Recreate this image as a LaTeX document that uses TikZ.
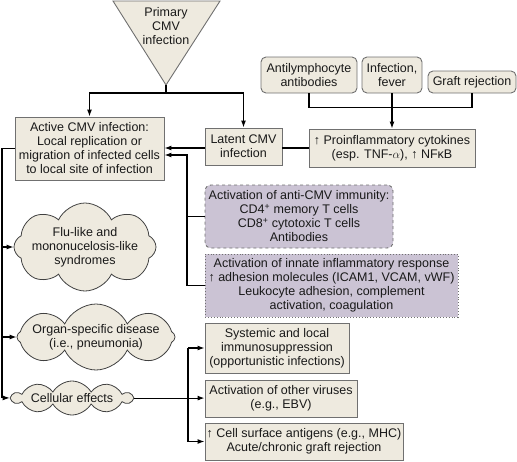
\documentclass[tikz,border=0pt]{standalone}
\usepackage{fontspec}
\setmainfont{Liberation Sans}
\usepackage{tikz}
\usetikzlibrary{shapes.symbols,arrows.meta,positioning,calc}

\definecolor{boxfill}{RGB}{238,234,223}
\definecolor{purpfill}{RGB}{203,195,212}
\definecolor{edge}{RGB}{112,112,112}

\begin{document}
\begin{tikzpicture}[x=1pt, y=-1pt,
    every node/.style={font=\fontsize{12.5}{14}\selectfont, text=black!90, align=center, inner sep=1.5pt},
    box/.style={rectangle, draw=edge, fill=boxfill, line width=0.9pt},
    cbox/.style={box, rounded corners=5pt},
    dashbox/.style={rectangle, draw=edge, fill=purpfill, dashed, rounded corners=6pt, line width=0.9pt},
    dotbox/.style={rectangle, draw=edge, fill=purpfill, dotted, line width=0.9pt},
    puff/.style={cloud, cloud puffs=8, cloud puff arc=130, cloud ignores aspect, inner sep=0pt, draw=black!75, fill=boxfill, line width=0.8pt},
    arrow/.style={-{Latex[length=7pt,width=5pt]}, line width=1.1pt},
    link/.style={line width=1.1pt}
]
\useasboundingbox (0,0) rectangle (517,461);

% Primary infection
\filldraw[draw=edge, fill=boxfill, line width=0.9pt] (113,1) -- (220,1) -- (166,85) -- cycle;
\node at (166,26) (prim) {Primary\\CMV\\infection};
\coordinate (apex) at (166,85);

% Active and latent infection
\node at (89.5,148.5) [box, minimum width=149, minimum height=63] (active) {Active CMV infection:\\Local replication or\\migration of infected cells\\to local site of infection};
\node at (243.5,146.5) [box, minimum width=77, minimum height=37] (latent) {Latent CMV\\infection};

% Triggers
\node at (309,75) [cbox, minimum width=96, minimum height=36] (anti) {Antilymphocyte\\antibodies};
\node at (392,75) [cbox, minimum width=60, minimum height=36] (fever) {Infection,\\fever};
\node at (472,82) [cbox, minimum width=88, minimum height=22] (graft) {Graft rejection};
\node at (392,148) [box, minimum width=166, minimum height=38] (proinf) {↑ Proinflammatory cytokines\\(esp. TNF-$\alpha$), ↑ NFκB};

% Host response
\node at (299,216.5) [dashbox, minimum width=188, minimum height=63] (immun) {Activation of anti-CMV immunity:\\CD4\textsuperscript{+} memory T cells\\CD8\textsuperscript{+} cytotoxic T cells\\Antibodies};
\node at (331.5,285.5) [dotbox, minimum width=253, minimum height=63] (innate) {Activation of innate inflammatory response\\↑ adhesion molecules (ICAM1, VCAM, vWF)\\Leukocyte adhesion, complement\\activation, coagulation};

% Clinical effects
\node at (85,247) [puff, minimum width=142, minimum height=88] (flu) {};
\node at (flu.center) (flutext) {Flu-like and\\mononucelosis-like\\syndromes};
\node at (96,337) [puff, minimum width=158, minimum height=66] (organ) {};
\node at (organ.center) (organtext) {Organ-specific disease\\(i.e., pneumonia)};
\node at (72,398) [puff, cloud puffs=10, cloud puff arc=120, minimum width=120, minimum height=34] (cell) {};
\node at (cell.center) (celltext) {Cellular effects};

% Cellular effects
\node at (277,348) [box, minimum width=144, minimum height=50] (sys) {Systemic and local\\immunosuppression\\(opportunistic infections)};
\node at (281,398.5) [box, minimum width=152, minimum height=37] (virus) {Activation of other viruses\\(e.g., EBV)};
\node at (304,441.5) [box, minimum width=198, minimum height=37] (surf) {↑ Cell surface antigens (e.g., MHC)\\Acute/chronic graft rejection};

% Arrows from primary infection
\draw [link] (apex) -- ++(0,8) coordinate (split);
\draw [arrow] (split) -| (active.north);
\draw [arrow] (split) -| (latent.north);

% Triggers to cytokines
\draw [link] (anti.south) -- ++(0,14) -| (graft.south);
\draw [arrow] (fever.south) -- (proinf.north);
\draw [link] (proinf.west) -- (proinf.west -| latent.east);
\draw [arrow] (latent.west |- 0,148) -- (active.east |- 0,148);

% Host response back to active infection
\coordinate (imj) at (187,155);
\draw [arrow] (innate.west) -| (imj) -- (imj -| active.east);
\draw [link] (immun.west) -- (immun.west -| imj);

% Left bus
\coordinate (lb) at (2,148);
\draw [arrow] (active.west) -| (lb |- cell.west) -- (cell.west);
\draw [arrow] (lb |- flu.west) -- (flu.west);
\draw [arrow] (lb |- organ.west) -- (organ.west);

% Right bus
\coordinate (rb) at (188,398);
\draw [arrow] (cell.east) -- (cell.east -| virus.west);
\draw [arrow] (rb |- sys.west) -- (sys.west);
\draw [link] (rb |- sys.west) -- (rb |- surf.west);
\draw [arrow] (rb |- surf.west) -- (surf.west);

\end{tikzpicture}
\end{document}
